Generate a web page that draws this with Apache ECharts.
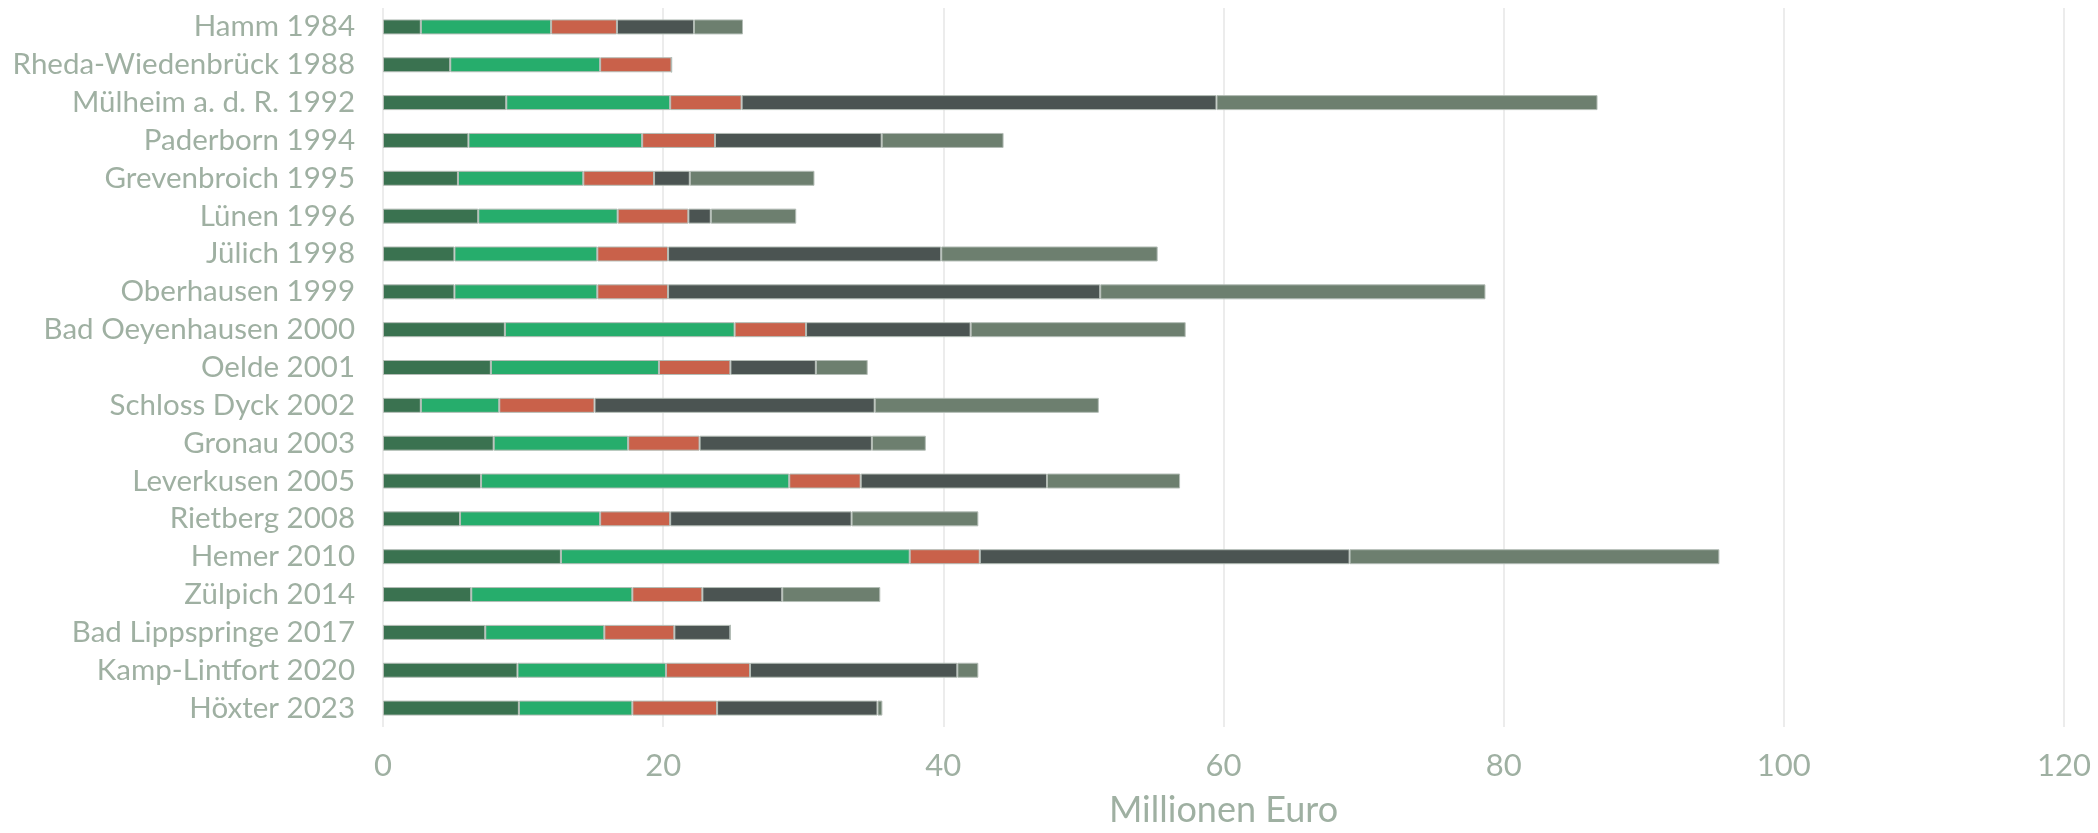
<!DOCTYPE html>
<html><head><meta charset="utf-8">
<script src="https://cdn.jsdelivr.net/npm/echarts@6/dist/echarts.min.js"></script>
<style>html,body{margin:0;padding:0;background:#fff}#c{width:2098px;height:833px}</style>
</head><body><div id="c"></div>
<script>
const categories = ["Hamm 1984","Rheda-Wiedenbrück 1988","Mülheim a. d. R. 1992","Paderborn 1994","Grevenbroich 1995","Lünen 1996","Jülich 1998","Oberhausen 1999","Bad Oeyenhausen 2000","Oelde 2001","Schloss Dyck 2002","Gronau 2003","Leverkusen 2005","Rietberg 2008","Hemer 2010","Zülpich 2014","Bad Lippspringe 2017","Kamp-Lintfort 2020","Höxter 2023"];
const s1 = [2.7,4.8,8.8,6.1,5.35,6.8,5.1,5.1,8.7,7.7,2.7,7.9,7.0,5.5,12.7,6.3,7.3,9.6,9.7];
const s2 = [9.3,10.7,11.7,12.4,8.95,9.95,10.2,10.2,16.4,12.0,5.6,9.6,22.0,10.0,24.9,11.5,8.5,10.6,8.1];
const s3 = [4.7,5.1,5.1,5.2,5.05,5.05,5.05,5.05,5.1,5.1,6.8,5.1,5.1,5.0,5.0,5.0,5.0,6.0,6.05];
const s4 = [5.5,0,33.9,11.9,2.55,1.6,19.5,30.85,11.75,6.1,20.0,12.3,13.3,12.95,26.4,5.7,4.0,14.8,11.45];
const s5 = [3.5,0,27.2,8.7,8.9,6.1,15.45,27.5,15.35,3.7,16.0,3.85,9.5,9.05,26.4,7.0,0,1.5,0.35];
const xTicks = [0,20,40,60,80,100,120];
const colors = ['#3a7250','#26ad6c','#c9614a','#4b5452','#6d7f6f'];
const font = 'Lato, "Noto Sans", sans-serif';
const mk = (d,i)=>({type:'bar',stack:'t',data:d,barWidth:15,itemStyle:{color:colors[i],borderColor:'#b4bdb6',borderWidth:1}});
const chart = echarts.init(document.getElementById('c'),null,{renderer:'canvas'});
chart.setOption({
  animation:false,
  grid:{left:383,right:34,top:8,bottom:100,containLabel:false},
  xAxis:{type:'value',min:xTicks[0],max:xTicks[xTicks.length-1],interval:20,
    name:'Millionen Euro',nameLocation:'middle',nameGap:65,
    nameTextStyle:{color:'#9fb0a2',fontSize:36,fontFamily:font},
    axisLine:{show:false},axisTick:{show:false},
    axisLabel:{color:'#9fb0a2',fontSize:31,fontFamily:font,margin:23},
    splitLine:{lineStyle:{color:'#e6e6e6',width:1.5}}},
  yAxis:{type:'category',data:categories,inverse:true,
    axisLine:{show:false},axisTick:{show:false},
    axisLabel:{color:'#9fb0a2',fontSize:29.5,fontFamily:font,margin:28,interval:0,hideOverlap:false}},
  series:[mk(s1,0),mk(s2,1),mk(s3,2),mk(s4,3),mk(s5,4)]
});
</script></body></html>
